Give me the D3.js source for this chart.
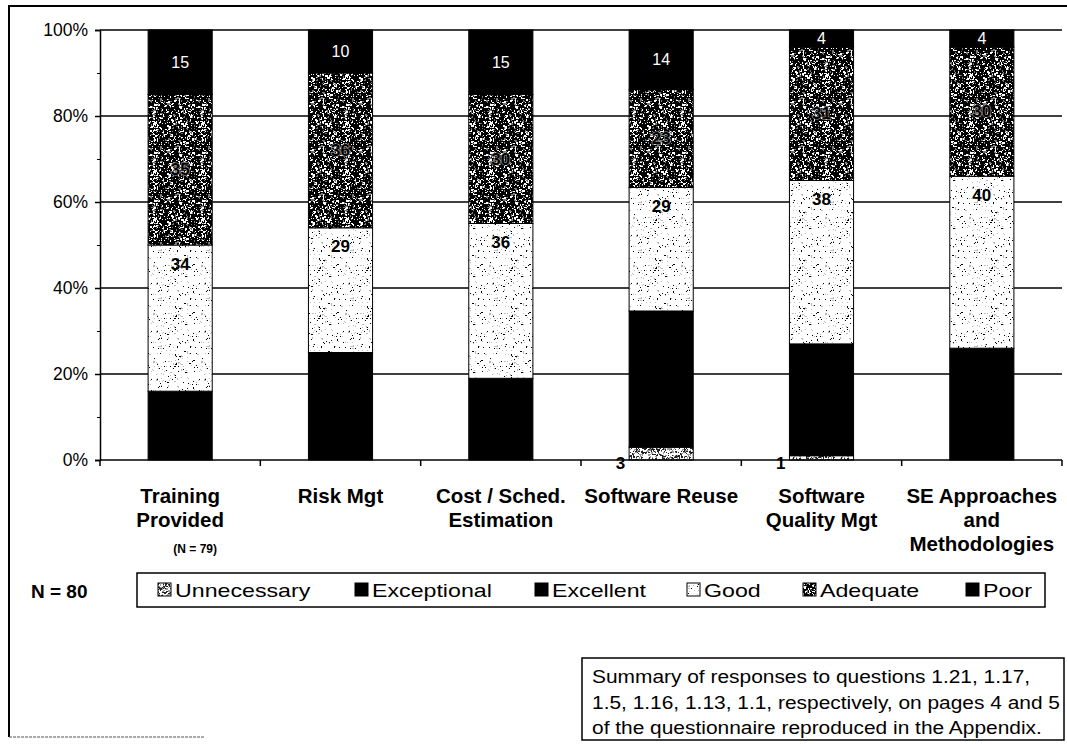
<!DOCTYPE html>
<html>
<head>
<meta charset="utf-8">
<script src="https://cdn.jsdelivr.net/npm/d3@7/dist/d3.min.js"></script>
<style>
  html, body { margin: 0; padding: 0; background: #fff; }
  svg { display: block; font-family: "Liberation Sans", Arial, Helvetica, sans-serif; }
</style>
</head>
<body>
<script>
// ---------------- DATA ----------------
const categories = ["Training Provided", "Risk Mgt", "Cost / Sched. Estimation", "Software Reuse", "Software Quality Mgt", "SE Approaches and Methodologies"];
const categoryLines = [["Training", "Provided"], ["Risk Mgt"], ["Cost / Sched.", "Estimation"], ["Software Reuse"], ["Software", "Quality Mgt"], ["SE Approaches", "and", "Methodologies"]];
const categoryNotes = ["(N = 79)", "", "", "", "", ""];
const seriesNames = ["Unnecessary", "Exceptional", "Excellent", "Good", "Adequate", "Poor"];
const unnecessary = [0, 0, 0, 3, 1, 0];
const exceptional = [0, 0, 0, 0, 0, 0];
const excellent = [16, 25, 19, 32, 26, 26];
const good = [34, 29, 36, 29, 38, 40];
const adequate = [35, 36, 30, 23, 31, 30];
const poor = [15, 10, 15, 14, 4, 4];
const yTickValues = [0, 0.2, 0.4, 0.6, 0.8, 1];
const yMinorTickValues = [0.1, 0.3, 0.5, 0.7, 0.9];
const sampleNote = "N = 80";
const noteLines = [
  "Summary of responses to questions 1.21, 1.17,",
  "1.5, 1.16, 1.13, 1.1, respectively, on pages 4 and 5",
  "of the questionnaire reproduced in the Appendix."
];

// ---------------- SETUP ----------------
const W = 1067, H = 744;
const svg = d3.select("body").append("svg").attr("width", W).attr("height", H);
const defs = svg.append("defs");

// deterministic speckle texture (style only)
function speckle(id, size, bg, layers) {
  const p = defs.append("pattern").attr("id", id)
    .attr("patternUnits", "userSpaceOnUse").attr("width", size).attr("height", size);
  p.append("rect").attr("width", size).attr("height", size).attr("fill", bg);
  let s = 12345 + id.length * 977;
  const next = () => { s = (Math.imul(s, 1103515245) + 12345) & 0x7fffffff; return s / 0x7fffffff; };
  layers.forEach(L => {
    let d = "";
    for (let yy = 0; yy < size; yy++) {
      for (let xx = 0; xx < size; xx++) {
        if (next() < L.density) {
          const w = next() < L.long ? 2 : 1;
          const h = next() < L.long ? 2 : 1;
          d += `M${xx},${yy}h${w}v${h}h${-w}z`;
        }
      }
    }
    p.append("path").attr("d", d).attr("fill", L.color);
  });
}
speckle("patDark", 48, "#000", [{ color: "#fff", density: 0.15, long: 0.35 }, { color: "#777", density: 0.08, long: 0.2 }]);
speckle("patLight", 48, "#fff", [{ color: "#000", density: 0.03, long: 0.1 }, { color: "#bbb", density: 0.04, long: 0.1 }]);
speckle("patMed", 48, "#fff", [{ color: "#222", density: 0.22, long: 0.3 }, { color: "#999", density: 0.15, long: 0.2 }]);

const seriesFill = {
  Unnecessary: "url(#patMed)",
  Exceptional: "#000",
  Excellent: "#000",
  Good: "url(#patLight)",
  Adequate: "url(#patDark)",
  Poor: "#000"
};

const plot = { left: 100, right: 1062, top: 30, bottom: 460 };

const x = d3.scaleBand().domain(categories).range([plot.left, plot.right]).paddingInner(0).paddingOuter(0);
const barW = x.bandwidth() * 0.4;
const barX = c => x(c) + (x.bandwidth() - barW) / 2;
const y = d3.scaleLinear().domain([0, 1]).range([plot.bottom, plot.top]);

const table = categories.map((c, i) => ({
  category: c,
  Unnecessary: unnecessary[i],
  Exceptional: exceptional[i],
  Excellent: excellent[i],
  Good: good[i],
  Adequate: adequate[i],
  Poor: poor[i]
}));
const stacked = d3.stack().keys(seriesNames).offset(d3.stackOffsetExpand)(table);

// ---------------- FRAME ----------------
svg.append("path").attr("d", `M9,737V6H${W}`).attr("fill", "none").attr("stroke", "#000").attr("stroke-width", 2);
svg.append("path").attr("d", "M9,737H205").attr("fill", "none").attr("stroke", "#555").attr("stroke-width", 1).attr("stroke-dasharray", "3,1");

// ---------------- GRIDLINES ----------------
svg.append("g").selectAll("line").data(yTickValues.filter(t => t > 0)).join("line")
  .attr("x1", plot.left).attr("x2", plot.right)
  .attr("y1", d => y(d)).attr("y2", d => y(d))
  .attr("stroke", "#000").attr("stroke-width", 1.5);

// ---------------- BARS ----------------
const gBars = svg.append("g");
stacked.forEach(layer => {
  gBars.append("g").selectAll("rect").data(layer).join("rect")
    .filter(d => d[1] - d[0] > 0)
    .attr("x", d => barX(d.data.category))
    .attr("width", barW)
    .attr("y", d => y(d[1]))
    .attr("height", d => y(d[0]) - y(d[1]))
    .attr("fill", seriesFill[layer.key])
    .attr("stroke", "#000").attr("stroke-width", 1);
});

// ---------------- AXES ----------------
const yAxis = svg.append("g").attr("transform", `translate(${plot.left},0)`)
  .call(d3.axisLeft(y).tickValues(yTickValues).tickFormat(d3.format(".0%")).tickSize(5).tickPadding(7));
yAxis.select(".domain").attr("stroke-width", 1.5);
yAxis.selectAll(".tick line").attr("stroke-width", 1.5);
yAxis.selectAll("text").attr("font-size", 17.5).attr("fill", "#000")
  .attr("font-family", "'Liberation Sans', Arial, sans-serif");
svg.append("g").attr("transform", `translate(${plot.left},0)`)
  .call(d3.axisLeft(y).tickValues(yMinorTickValues).tickFormat("").tickSize(3))
  .call(g => g.select(".domain").remove());

// x axis line + ticks at category boundaries
svg.append("line").attr("x1", plot.left).attr("x2", plot.right)
  .attr("y1", y(0)).attr("y2", y(0)).attr("stroke", "#000").attr("stroke-width", 1.5);
const boundaries = categories.map(c => x(c)).concat([x.range()[1]]);
svg.append("g").selectAll("line").data(boundaries).join("line")
  .attr("x1", d => d).attr("x2", d => d)
  .attr("y1", y(0)).attr("y2", y(0) + 6)
  .attr("stroke", "#000").attr("stroke-width", 1.5);

// ---------------- VALUE LABELS ----------------
const gLab = svg.append("g");
stacked.forEach(layer => {
  layer.forEach(d => {
    const v = d.data[layer.key];
    if (!v) return;
    const cx = barX(d.data.category) + barW / 2;
    const top = y(d[1]), bot = y(d[0]);
    if (layer.key === "Poor") {
      gLab.append("text").attr("x", cx).attr("y", (top + bot) / 2)
        .attr("text-anchor", "middle").attr("dominant-baseline", "central")
        .attr("font-size", 16).attr("fill", "#fff").text(v);
    } else if (layer.key === "Adequate") {
      gLab.append("text").attr("x", cx).attr("y", (top + bot) / 2)
        .attr("text-anchor", "middle").attr("dominant-baseline", "central")
        .attr("font-size", 17).attr("font-weight", "bold").attr("fill", "#000")
        .attr("stroke", "#aaa").attr("stroke-width", 1.2).attr("paint-order", "stroke")
        .text(v);
    } else if (layer.key === "Good") {
      gLab.append("text").attr("x", cx).attr("y", top + 19)
        .attr("text-anchor", "middle").attr("dominant-baseline", "central")
        .attr("font-size", 17).attr("font-weight", "bold").attr("fill", "#000").text(v);
    } else if (layer.key === "Unnecessary") {
      gLab.append("text").attr("x", barX(d.data.category) - 4).attr("y", y(0) + 3)
        .attr("text-anchor", "end").attr("dominant-baseline", "central")
        .attr("font-size", 17).attr("font-weight", "bold").attr("fill", "#000").text(v);
    }
  });
});

// ---------------- CATEGORY LABELS ----------------
const gCat = svg.append("g");
categories.forEach((c, i) => {
  const cx = x(c) + x.bandwidth() / 2;
  categoryLines[i].forEach((line, j) => {
    gCat.append("text").attr("x", cx).attr("y", 503 + j * 24)
      .attr("text-anchor", "middle").attr("font-size", 20.5).attr("font-weight", "bold")
      .attr("fill", "#000").text(line);
  });
  if (categoryNotes[i]) {
    gCat.append("text").attr("x", cx + 15).attr("y", 553)
      .attr("text-anchor", "middle").attr("font-size", 12).attr("font-weight", "bold")
      .attr("fill", "#000").text(categoryNotes[i]);
  }
});

// ---------------- N = 80 ----------------
svg.append("text").attr("x", 31).attr("y", 598).attr("font-size", 19).attr("font-weight", "bold")
  .attr("fill", "#000").text(sampleNote);

// ---------------- LEGEND ----------------
const legendBox = { x: 137, y: 573, w: 908, h: 34 };
const gLeg = svg.append("g");
gLeg.append("rect").attr("x", legendBox.x).attr("y", legendBox.y).attr("width", legendBox.w).attr("height", legendBox.h)
  .attr("fill", "#fff").attr("stroke", "#000").attr("stroke-width", 1.5);
const legendIconX = [158, 355, 535, 687, 803, 966];
const legendStretch = 1.22;
seriesNames.forEach((name, i) => {
  const ix = legendIconX[i];
  gLeg.append("rect").attr("x", ix).attr("y", 583).attr("width", 13).attr("height", 13)
    .attr("fill", seriesFill[name]).attr("stroke", "#000").attr("stroke-width", 1);
  const t = gLeg.append("text").attr("x", ix + 17).attr("y", 597)
    .attr("font-size", 19).attr("fill", "#000").text(name);
  const w = t.node().getComputedTextLength();
  t.attr("textLength", w * legendStretch).attr("lengthAdjust", "spacingAndGlyphs");
});

// ---------------- NOTE BOX ----------------
const noteBox = { x: 582, y: 658, w: 482, h: 82 };
const gNote = svg.append("g");
gNote.append("rect").attr("x", noteBox.x).attr("y", noteBox.y).attr("width", noteBox.w).attr("height", noteBox.h)
  .attr("fill", "#fff").attr("stroke", "#000").attr("stroke-width", 1.5);
const noteTexts = noteLines.map((line, i) =>
  gNote.append("text").attr("x", noteBox.x + 10).attr("y", noteBox.y + 25 + i * 25.5)
    .attr("font-size", 17.5).attr("fill", "#000").text(line));
const maxW = d3.max(noteTexts, t => t.node().getComputedTextLength());
const noteScale = (noteBox.w - 14) / maxW;
noteTexts.forEach(t => {
  t.attr("textLength", t.node().getComputedTextLength() * noteScale).attr("lengthAdjust", "spacingAndGlyphs");
});
</script>
</body>
</html>
